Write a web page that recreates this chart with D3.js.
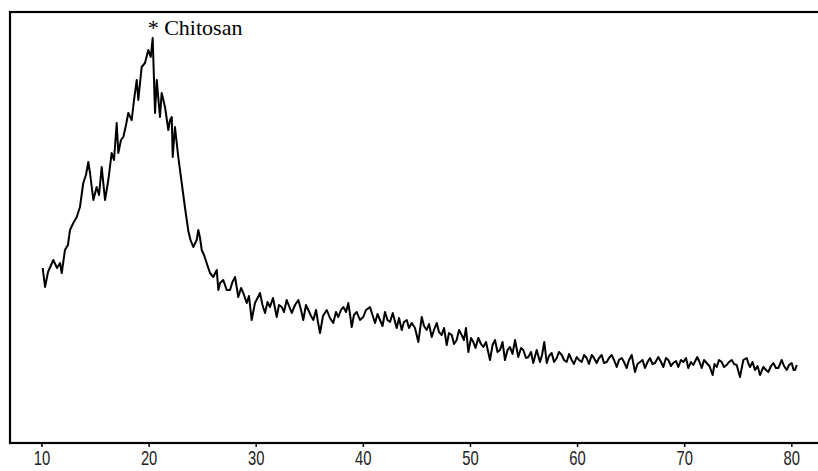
<!DOCTYPE html>
<html lang="en">
<head>
<meta charset="UTF-8">
<title>XRD - Chitosan</title>
<script src="https://cdnjs.cloudflare.com/ajax/libs/d3/7.8.5/d3.min.js"></script>
<style>
  body { margin: 0; background: #fff; }
  svg { display: block; }
  .tick text { font-family: "Liberation Sans", Arial, sans-serif; }
</style>
</head>
<body>
<svg id="chart" width="818" height="471"></svg>
<script>
// 2-theta (degrees)
var twoTheta = [
  10.11, 10.33, 10.61, 11.10, 11.45, 11.73, 11.89, 12.19, 12.47, 12.66,
  12.97, 13.29, 13.59, 13.90, 14.15, 14.37, 14.53, 14.84, 15.15, 15.37,
  15.62, 15.93, 16.24, 16.55, 16.77, 17.02, 17.17, 17.42, 17.64, 17.89,
  18.10, 18.42, 18.64, 18.89, 19.04, 19.35, 19.66, 19.97, 20.20, 20.38,
  20.60, 20.76, 20.92, 21.06, 21.22, 21.53, 21.84, 22.00, 22.16, 22.25,
  22.46, 22.77, 23.09, 23.40, 23.71, 23.91, 24.17, 24.49, 24.64, 24.80,
  24.96, 25.17, 25.42, 25.73, 26.04, 26.36, 26.51, 26.67, 26.97, 27.29,
  27.60, 27.83, 28.07, 28.37, 28.63, 28.84, 29.16, 29.37, 29.62, 29.93,
  30.17, 30.40, 30.63, 30.87, 31.10, 31.33, 31.61, 31.96, 32.17, 32.43,
  32.64, 32.89, 33.11, 33.36, 33.67, 33.98, 34.23, 34.44, 34.69, 34.91,
  35.16, 35.38, 35.63, 35.81, 36.00, 36.28, 36.63, 36.93, 37.24, 37.49,
  37.71, 37.96, 38.18, 38.43, 38.64, 38.80, 38.96, 39.17, 39.43, 39.73,
  40.04, 40.29, 40.67, 40.90, 41.14, 41.37, 41.60, 41.84, 42.07, 42.30,
  42.54, 42.79, 43.16, 43.38, 43.63, 43.84, 44.10, 44.31, 44.56, 44.87,
  45.18, 45.50, 45.71, 45.96, 46.18, 46.43, 46.64, 46.90, 47.11, 47.36,
  47.58, 47.83, 48.04, 48.30, 48.51, 48.76, 48.98, 49.23, 49.44, 49.63,
  49.85, 50.10, 50.31, 50.52, 50.78, 51.03, 51.25, 51.50, 51.87, 52.11,
  52.34, 52.57, 52.81, 53.04, 53.27, 53.51, 53.74, 53.97, 54.21, 54.51,
  54.77, 54.98, 55.23, 55.45, 55.70, 55.91, 56.23, 56.54, 56.73, 56.94,
  57.17, 57.38, 57.63, 57.85, 58.10, 58.31, 58.57, 58.78, 59.03, 59.25,
  59.50, 59.71, 59.97, 60.18, 60.43, 60.65, 60.90, 61.11, 61.37, 61.52,
  61.83, 62.05, 62.30, 62.51, 62.77, 62.98, 63.23, 63.45, 63.70, 63.91,
  64.17, 64.38, 64.63, 64.85, 65.10, 65.41, 65.64, 65.88, 66.11, 66.34,
  66.58, 66.81, 67.04, 67.28, 67.58, 67.84, 68.05, 68.30, 68.52, 68.77,
  68.98, 69.24, 69.45, 69.70, 69.92, 70.17, 70.38, 70.64, 70.85, 71.22,
  71.43, 71.64, 71.85, 72.10, 72.36, 72.66, 72.83, 73.04, 73.25, 73.50,
  73.72, 73.97, 74.18, 74.44, 74.65, 74.90, 75.21, 75.52, 75.84, 76.01,
  76.15, 76.38, 76.61, 76.85, 77.08, 77.39, 77.64, 77.85, 78.11, 78.32,
  78.57, 78.79, 79.11, 79.32, 79.57, 79.79, 80.04, 80.21, 80.35, 80.51
];

// intensity (arbitrary units), same order as twoTheta
var intensity = [
  175, 156, 171, 183, 175, 180, 170, 193, 198, 213,
  220, 226, 236, 260, 268, 281, 270, 243, 256, 248,
  276, 243, 263, 290, 283, 320, 290, 303, 306, 318,
  330, 323, 343, 363, 343, 376, 380, 393, 386, 405,
  330, 363, 343, 326, 350, 336, 313, 323, 326, 286,
  316, 286, 260, 235, 212, 203, 196, 203, 213, 205,
  193, 188, 180, 170, 166, 173, 153, 160, 163, 153,
  153, 161, 166, 146, 155, 150, 140, 147, 123, 140,
  145, 150, 138, 130, 141, 136, 145, 126, 138, 136,
  131, 143, 137, 130, 138, 143, 133, 123, 138, 133,
  127, 123, 133, 121, 110, 127, 133, 125, 120, 131,
  126, 133, 136, 131, 140, 129, 116, 128, 131, 123,
  126, 133, 136, 128, 120, 129, 123, 117, 131, 123,
  121, 130, 115, 125, 113, 121, 123, 115, 120, 115,
  101, 126, 117, 113, 119, 106, 113, 120, 111, 108,
  115, 98, 110, 108, 99, 103, 113, 108, 103, 115,
  91, 105, 101, 95, 105, 99, 96, 101, 83, 98,
  103, 91, 93, 101, 83, 93, 96, 89, 103, 86,
  95, 93, 85, 86, 91, 80, 93, 81, 88, 101,
  80, 87, 90, 81, 85, 91, 88, 83, 81, 89,
  83, 79, 86, 83, 81, 88, 85, 79, 88, 86,
  80, 85, 88, 80, 81, 85, 88, 83, 76, 83,
  85, 81, 75, 83, 88, 71, 79, 81, 83, 75,
  81, 85, 79, 80, 86, 81, 76, 85, 83, 77,
  80, 82, 76, 83, 81, 85, 75, 81, 78, 86,
  81, 75, 83, 80, 77, 68, 79, 76, 83, 81,
  76, 78, 81, 83, 79, 78, 66, 83, 85, 79,
  76, 81, 73, 77, 68, 76, 73, 71, 77, 80,
  75, 75, 83, 77, 73, 78, 80, 73, 73, 78
];

var xTicks = [10, 20, 30, 40, 50, 60, 70, 80];
var peakLabel = "* Chitosan";

var svg = d3.select("#chart");

// plot frame (right side runs off the picture)
var frame = { left: 10, top: 12, right: 830, bottom: 443 };

var xScale = d3.scaleLinear().domain([10, 80]).range([41.5, 791.3]);
var yScale = d3.scaleLinear().domain([0, 431]).range([frame.bottom, frame.top]);

var data = twoTheta.map(function (t, i) { return { t: t, v: intensity[i] }; });

svg.append("rect")
  .attr("x", frame.left)
  .attr("y", frame.top)
  .attr("width", frame.right - frame.left)
  .attr("height", frame.bottom - frame.top)
  .attr("fill", "none")
  .attr("stroke", "#000")
  .attr("stroke-width", 2.2);

var xAxis = d3.axisBottom(xScale)
  .tickValues(xTicks)
  .tickSize(4)
  .tickSizeOuter(0)
  .tickPadding(4)
  .tickFormat(d3.format("d"));

var gx = svg.append("g")
  .attr("transform", "translate(0," + frame.bottom + ")")
  .call(xAxis);
gx.select(".domain").remove();
gx.selectAll(".tick line").attr("stroke", "#000").attr("stroke-width", 1.5);
// narrow, tall digits like the original
gx.selectAll(".tick text")
  .attr("fill", "#222")
  .attr("transform", "scale(0.74,1)")
  .style("font-size", "20px");

var line = d3.line()
  .x(function (d) { return xScale(d.t); })
  .y(function (d) { return yScale(d.v); });

svg.append("path")
  .datum(data)
  .attr("d", line)
  .attr("fill", "none")
  .attr("stroke", "#000")
  .attr("stroke-width", 2)
  .attr("stroke-linejoin", "round");

// label at the main peak
var peak = data.reduce(function (a, b) { return b.v > a.v ? b : a; });
svg.append("text")
  .attr("x", xScale(peak.t) - 5)
  .attr("y", yScale(peak.v) - 3)
  .attr("font-family", "'Liberation Serif', 'Times New Roman', serif")
  .attr("font-size", "22px")
  .attr("fill", "#000")
  .text(peakLabel);
</script>
</body>
</html>
